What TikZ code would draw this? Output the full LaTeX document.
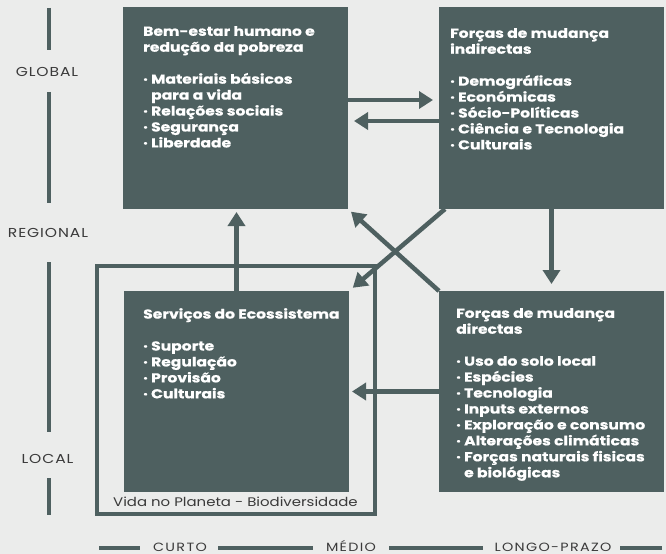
\documentclass[tikz,border=0pt]{standalone}
\usepackage{fontspec}
\setmainfont{Poppins}
\newfontfamily\wide{Poppins}[FakeStretch=1.2, BoldFeatures={FakeBold=0.6}]
\usetikzlibrary{arrows.meta,positioning}
\definecolor{slate}{RGB}{78,96,96}
\definecolor{paper}{RGB}{235,236,235}
\definecolor{ink}{RGB}{58,58,58}
\newcommand{\seg}[4]{\draw[scaleline] (#1,#2) -- (#3,#4);}
\newcommand{\ind}{\phantom{· }}
\tikzset{
  panel/.style={fill=slate, minimum width=225bp, minimum height=202bp,
    anchor=north west, inner sep=0pt, outer sep=0pt},
  paneltext/.style={text=white, font=\wide\bfseries\fontsize{13}{16}\selectfont,
    align=left, inner sep=0pt},
  flow/.style={draw=slate, line width=4.5bp, -{Triangle[width=17bp,length=14bp]}},
  scaleline/.style={draw=slate, line width=4.5bp},
  scalelabel/.style={text=ink, inner sep=0pt, anchor=base,
    font=\wide\addfontfeature{LetterSpace=7}\fontsize{13}{16}\selectfont},
  timelabel/.style={scalelabel,
    font=\wide\addfontfeature{LetterSpace=11}\fontsize{12}{16}\selectfont}
}
\begin{document}
\begin{tikzpicture}[x=1bp,y=-1bp]
  \fill[paper] (0,0) rectangle (666,554);
  \useasboundingbox (0,0) rectangle (666,554);
  % the four boxes
  \node[panel] (well) at (123,7) {};
  \node[panel] (indirect) at (439,7) {};
  \node[panel, minimum height=201bp] (eco) at (124,291) {};
  \node[panel, minimum height=201bp] (direct) at (439,291) {};
  \node[paneltext, below right=19bp and 20bp of well.north west] (welltext)
    {Bem-estar humano e\\redução da pobreza\\[16bp]
     · Materiais básicos\\\ind para a vida\\· Relações sociais\\
     · Segurança\\· Liberdade};
  \node[paneltext, below right=21bp and 11bp of indirect.north west] (indirecttext)
    {Forças de mudança\\indirectas\\[16bp]
     · Demográficas\\· Económicas\\· Sócio-Políticas\\
     · Ciência e Tecnologia\\· Culturais};
  \node[paneltext, below right=17bp and 19bp of eco.north west] (ecotext)
    {Serviços do Ecossistema\\[16bp]
     · Suporte\\· Regulação\\· Provisão\\· Culturais};
  \node[paneltext, below right=17bp and 17bp of direct.north west] (directtext)
    {Forças de mudança\\directas\\[16bp]
     · Uso do solo local\\· Espécies\\· Tecnologia\\· Inputs externos\\
     · Exploração e consumo\\· Alterações climáticas\\
     · Forças naturais fisicas\\\ind e biológicas};
  % frame round the ecosystem
  \node[draw=slate, line width=4bp, minimum width=278bp, minimum height=248bp,
    anchor=north west, inner sep=0pt, outer sep=0pt] (planet) at (97,266) {};
  \node[scalelabel, anchor=base west, font=\wide\fontsize{12.5}{15}\selectfont]
    (planetlabel) at (113,506) {Vida no Planeta - Biodiversidade};
  % arrows
  \draw[flow, shorten >=3bp] (eco.north) -- (eco.north |- well.south);
  \draw[flow, shorten >=6bp] ([yshift=8bp]well.east) -- ([yshift=8bp]indirect.west);
  \draw[flow, shorten >=6bp] ([yshift=-13bp]indirect.west) -- ([yshift=-13bp]well.east);
  \draw[flow, shorten >=7bp] (indirect.south) -- (direct.north);
  \draw[flow, shorten >=3bp] (direct.west) -- (eco.east);
  \draw[flow, shorten >=5bp] ([xshift=6bp]indirect.south west) -- (eco.north east);
  \draw[flow, shorten >=4bp] (direct.north west) -- (well.south east);
  % scale on the left
  \seg{49}{8}{49}{50}
  \seg{49}{92}{49}{203}
  \seg{49}{262}{49}{432}
  \seg{49}{478}{49}{515}
  \node[scalelabel] (global) at (47,77) {GLOBAL};
  \node[scalelabel] (regional) at (48,238) {REGIONAL};
  \node[scalelabel] (local) at (47.5,463) {LOCAL};
  % time scale at the bottom
  \seg{99}{548}{140}{548}
  \seg{218}{548}{313}{548}
  \seg{389}{548}{483}{548}
  \seg{620}{548}{662}{548}
  \node[timelabel] (short) at (180,551) {CURTO};
  \node[timelabel] (medium) at (351,551) {MÉDIO};
  \node[timelabel] (long) at (553,551) {LONGO-PRAZO};
\end{tikzpicture}
\end{document}
